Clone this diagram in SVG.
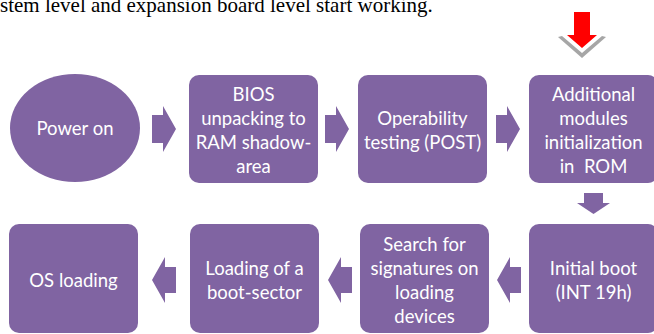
<svg xmlns="http://www.w3.org/2000/svg" width="654" height="334" viewBox="0 0 654 334">
<style>
.n{fill:#8064A2}
.a{fill:#8064A2}
.t{font-family:Lato,"Open Sans","Liberation Sans",sans-serif;font-size:18.5px;fill:#ffffff;text-anchor:middle}
.h{font-family:"Liberation Serif","Times New Roman",serif;font-size:21px;fill:#000000}
</style>
<rect x="0" y="0" width="654" height="334" fill="#ffffff"/>
<text class="h" x="0" y="12">stem level and expansion board level start working.</text>
<g id="marker-arrow">
<path d="M558,37 L582,58 L606,37 L602,36 L582,53 L562,36 Z" fill="#a6a6a6"/>
<path d="M574,12 L590,12 L590,35 L597,35 L582,48 L567,35 L574,35 Z" fill="#ff0000"/>
</g>
<g id="connectors">
<path class="a" d="M152,115 L163,115 L163,106 L176,129 L163,152 L163,143 L152,143 Z"/>
<path class="a" d="M325,115 L336,115 L336,106 L349,129 L336,152 L336,143 L325,143 Z"/>
<path class="a" d="M496,115 L507,115 L507,106 L520,129 L507,152 L507,143 L496,143 Z"/>
<path class="a" d="M584,193 L603,193 L603,203 L610,203 L593.5,214 L577,203 L584,203 Z"/>
<path class="a" d="M521,267 L510,267 L510,257 L497,280 L510,303 L510,293 L521,293 Z"/>
<path class="a" d="M352,267 L341,267 L341,257 L328,280 L341,303 L341,293 L352,293 Z"/>
<path class="a" d="M176,267 L165,267 L165,257 L152,280 L165,303 L165,293 L176,293 Z"/>
</g>
<g id="power-on">
<ellipse class="n" cx="75" cy="128" rx="65" ry="54"/>
<text class="t" x="75" y="135">Power on</text>
</g>
<g id="bios-unpacking">
<rect class="n" x="189" y="75" width="129" height="108" rx="10"/>
<text class="t" x="253.5" y="101">BIOS</text>
<text class="t" x="253.5" y="125">unpacking to</text>
<text class="t" x="253.5" y="149">RAM shadow-</text>
<text class="t" x="253.5" y="173">area</text>
</g>
<g id="post">
<rect class="n" x="358" y="75" width="129" height="108" rx="10"/>
<text class="t" x="422.5" y="125">Operability</text>
<text class="t" x="422.5" y="149">testing (POST)</text>
</g>
<g id="additional-modules">
<rect class="n" x="529" y="75" width="129" height="108" rx="10"/>
<text class="t" x="593.5" y="101">Additional</text>
<text class="t" x="593.5" y="125">modules</text>
<text class="t" x="593.5" y="149">initialization</text>
<text class="t" x="593.5" y="173" xml:space="preserve">in  ROM</text>
</g>
<g id="initial-boot">
<rect class="n" x="529" y="224" width="129" height="109" rx="10"/>
<text class="t" x="593.5" y="274.5">Initial boot</text>
<text class="t" x="593.5" y="298.5">(INT 19h)</text>
</g>
<g id="search-signatures">
<rect class="n" x="360" y="224" width="129" height="109" rx="10"/>
<text class="t" x="424.5" y="250.5">Search for</text>
<text class="t" x="424.5" y="274.5">signatures on</text>
<text class="t" x="424.5" y="298.5">loading</text>
<text class="t" x="424.5" y="322.5">devices</text>
</g>
<g id="boot-sector">
<rect class="n" x="190" y="224" width="129" height="109" rx="10"/>
<text class="t" x="254.5" y="274.5">Loading of a</text>
<text class="t" x="254.5" y="298.5">boot-sector</text>
</g>
<g id="os-loading">
<rect class="n" x="9" y="224" width="129" height="109" rx="10"/>
<text class="t" x="73.5" y="287">OS loading</text>
</g>
</svg>
